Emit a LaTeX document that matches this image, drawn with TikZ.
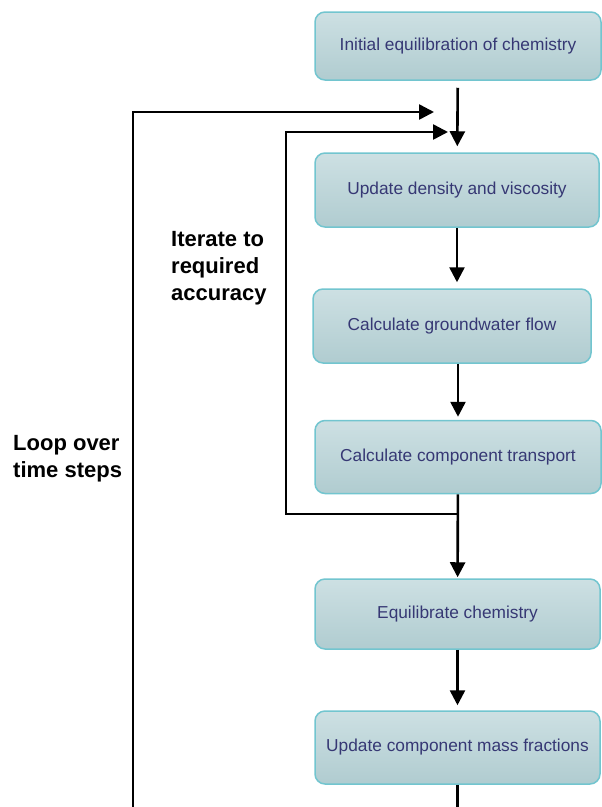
\documentclass[tikz,border=0pt]{standalone}
\usepackage{fontspec}
\setmainfont{Liberation Sans}
\usetikzlibrary{arrows.meta,positioning}
\definecolor{boxedge}{HTML}{72C5CF}
\definecolor{boxtop}{HTML}{CDE0E3}
\definecolor{boxbot}{HTML}{B0CCD0}
\definecolor{boxtext}{HTML}{363874}
\tikzset{
  procbox/.style={draw=boxedge,line width=1.5pt,top color=boxtop,bottom color=boxbot,rounded corners=10pt,align=center,inner sep=0pt,text=boxtext,font=\fontsize{17.3}{20}\selectfont},
  flowarr/.style={-{Triangle[length=15pt,width=15pt]},line width=2.6pt,draw=black},
  flowline/.style={line width=2.6pt,draw=black},
  looplabel/.style={font=\bfseries\fontsize{22}{27}\selectfont,align=left,inner sep=0pt,anchor=base west}
}
\begin{document}
\begin{tikzpicture}[x=1pt,y=1pt]
  \useasboundingbox (0,0) rectangle (602,-807);
  % process steps
  \node[procbox,minimum width=286pt,minimum height=68pt] (init) at (458,-46) {Initial equilibration of chemistry};
  \node[procbox,minimum width=284pt,minimum height=74pt] (dens) at (457,-190) {Update density and viscosity};
  \node[procbox,minimum width=278pt,minimum height=74pt] (flow) at (452,-326) {Calculate groundwater flow};
  \node[procbox,minimum width=286pt,minimum height=73pt] (trans) at (458,-457) {Calculate component transport};
  \node[procbox,minimum width=285pt,minimum height=70pt] (equil) at (457.5,-614) {Equilibrate chemistry};
  \node[procbox,minimum width=285pt,minimum height=73pt] (mass) at (457.5,-747.5) {Update component mass fractions};
  % loop ends
  \coordinate (split) at (458,-514);
  \coordinate (iterx) at (286,-514);
  \coordinate (innertip) at (448,-132);
  \coordinate (outertip) at (434,-112);
  \coordinate (loopbot) at (133,-807);
  \coordinate (colbot) at (457.5,-807);
  % main column
  \draw[flowarr,shorten <=7pt,shorten >=6pt] (init) -- (dens);
  \draw[flowarr,shorten >=6pt] (dens.south) -- (dens.south |- flow.north);
  \draw[flowarr,shorten >=3pt] (trans.north |- flow.south) -- (trans.north);
  \draw[flowarr,shorten >=1pt] (trans) -- (equil);
  \draw[flowarr,shorten >=5pt] (equil) -- (mass);
  \draw[flowline] (mass.south) -- (colbot);
  % iteration loops
  \draw[flowarr] (split) -- (iterx) |- (innertip);
  \draw[flowarr] (loopbot) |- (outertip);
  \node[looplabel] (iterlbl) at (171,-300) {Iterate to\\required\\accuracy};
  \node[looplabel] (looplbl) at (13,-477) {Loop over\\time steps};
\end{tikzpicture}
\end{document}
